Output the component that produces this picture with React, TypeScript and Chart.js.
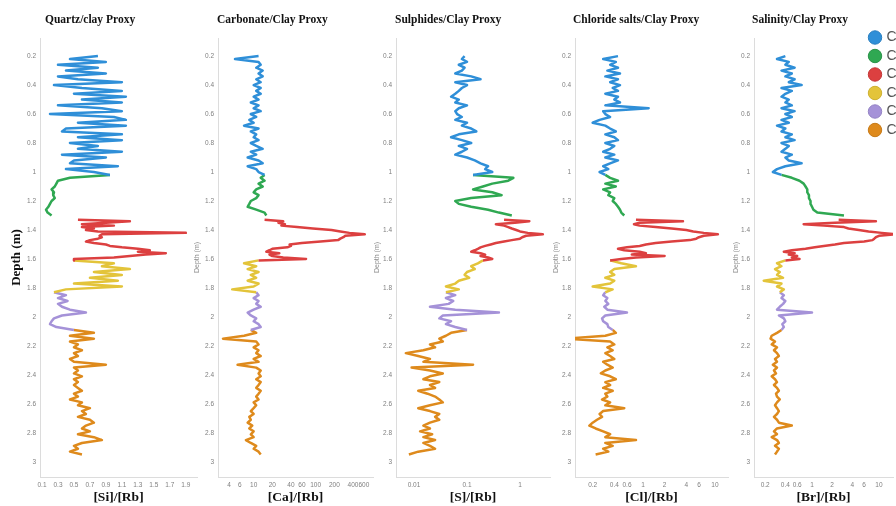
import React, { useEffect, useRef } from "react";
import { Chart, registerables } from "chart.js";

Chart.register(...registerables);

// ---------- categories / legend ----------
const segmentNames = ["Cluster 1", "Cluster 2", "Cluster 3", "Cluster 4", "Cluster 5", "Cluster 6"];
const segmentColors = ["#2f8fd8", "#2fa852", "#dc4040", "#e3c43a", "#a592d8", "#de8a1c"];
const segmentEdges = ["#2a7fc0", "#2a9248", "#c43838", "#cdb030", "#9483c4", "#c67a18"];

// ---------- depth grid (m) per segment ----------
const blueDepth = [0.20, 0.22, 0.24, 0.26, 0.28, 0.30, 0.32, 0.34, 0.36, 0.38, 0.40, 0.42, 0.44, 0.46, 0.48, 0.50, 0.52, 0.54, 0.56, 0.58, 0.60, 0.62, 0.64, 0.66, 0.68, 0.70, 0.72, 0.74, 0.76, 0.78, 0.80, 0.82, 0.84, 0.86, 0.88, 0.90, 0.92, 0.94, 0.96, 0.98, 1.00, 1.02];
const greenDepth = [1.02, 1.04, 1.06, 1.08, 1.10, 1.12, 1.14, 1.16, 1.18, 1.20, 1.22, 1.24, 1.26, 1.28, 1.30];
const redDepth = [1.33, 1.34, 1.35, 1.36, 1.37, 1.38, 1.39, 1.40, 1.41, 1.42, 1.43, 1.44, 1.45, 1.46, 1.47, 1.48, 1.49, 1.50, 1.51, 1.52, 1.53, 1.54, 1.55, 1.56, 1.57, 1.58, 1.59, 1.60, 1.61];
const yellowDepth = [1.61, 1.63, 1.65, 1.67, 1.69, 1.71, 1.73, 1.75, 1.77, 1.79, 1.81, 1.83];
const purpleDepth = [1.83, 1.85, 1.87, 1.89, 1.91, 1.93, 1.95, 1.97, 1.99, 2.01, 2.03, 2.05, 2.07, 2.09];
const orangeDepth = [2.09, 2.11, 2.13, 2.15, 2.17, 2.19, 2.21, 2.23, 2.25, 2.27, 2.29, 2.31, 2.33, 2.35, 2.37, 2.39, 2.41, 2.43, 2.45, 2.47, 2.49, 2.51, 2.53, 2.55, 2.57, 2.59, 2.61, 2.63, 2.65, 2.67, 2.69, 2.71, 2.73, 2.75, 2.77, 2.79, 2.81, 2.83, 2.85, 2.87, 2.89, 2.91, 2.93, 2.95];

const depthTicks = [0.2, 0.4, 0.6, 0.8, 1, 1.2, 1.4, 1.6, 1.8, 2, 2.2, 2.4, 2.6, 2.8, 3];

// ---------- Quartz / clay  [Si]/[Rb] ----------
const quartzBlue = [0.8, 0.45, 0.9, 0.3, 0.8, 0.4, 0.9, 0.3, 0.55, 1.1, 0.25, 0.6, 1.1, 0.5, 1.15, 0.6, 1.1, 0.3, 0.85, 1.1, 0.2, 1.0, 1.15, 0.55, 1.15, 0.4, 0.35, 1.1, 0.55, 1.1, 0.45, 0.8, 0.55, 1.1, 0.35, 0.9, 0.5, 0.45, 1.05, 0.4, 0.75, 0.95];
const quartzGreen = [0.95, 0.45, 0.3, 0.28, 0.26, 0.22, 0.25, 0.24, 0.26, 0.22, 0.2, 0.18, 0.15, 0.17, 0.22];
const quartzRed = [0.55, 1.2, 0.9, 0.6, 1.0, 0.6, 0.75, 0.65, 0.8, 1.9, 0.85, 0.82, 0.85, 0.8, 0.7, 0.65, 0.75, 0.9, 0.95, 1.1, 1.3, 1.45, 1.3, 1.65, 1.4, 1.2, 1.0, 0.5, 0.5];
const quartzYellow = [0.5, 1.0, 0.85, 1.2, 0.75, 1.1, 0.7, 1.05, 0.5, 1.1, 0.4, 0.25];
const quartzPurple = [0.25, 0.4, 0.3, 0.42, 0.3, 0.35, 0.45, 0.65, 0.35, 0.25, 0.22, 0.2, 0.28, 0.5];
const quartzOrange = [0.5, 0.75, 0.45, 0.75, 0.45, 0.55, 0.5, 0.6, 0.5, 0.55, 0.45, 0.5, 0.9, 0.5, 0.55, 0.5, 0.6, 0.5, 0.55, 0.5, 0.55, 0.6, 0.5, 0.55, 0.45, 0.6, 0.55, 0.7, 0.6, 0.65, 0.55, 0.7, 0.75, 0.65, 0.6, 0.7, 0.55, 0.75, 0.85, 0.6, 0.5, 0.55, 0.45, 0.6];
const quartzTicks = [0.1, 0.3, 0.5, 0.7, 0.9, 1.1, 1.3, 1.5, 1.7, 1.9];

// ---------- Carbonate / clay  [Ca]/[Rb] ----------
const carbBlue = [12, 5, 12, 13, 11, 14, 12, 14, 11, 13, 10, 13, 11, 13, 10, 12, 9, 12, 10, 13, 9, 11, 8.5, 10, 7, 12, 9, 11, 10, 12, 9, 11, 14, 9, 11, 8, 12, 14, 8, 11, 12, 15];
const carbGreen = [15, 13, 15, 12, 14, 11, 10, 12, 11, 9, 8.5, 8, 11, 15, 16];
const carbRed = [15, 30, 25, 32, 28, 50, 90, 180, 250, 350, 620, 300, 280, 250, 230, 120, 60, 38, 40, 35, 20, 18, 16, 26, 18, 20, 30, 70, 12];
const carbYellow = [12, 7, 11, 8, 12, 9, 11, 8, 12, 10, 4.5, 11];
const carbPurple = [11, 12, 10, 12, 11, 13, 10, 8, 9, 11, 10, 12, 13, 9];
const carbOrange = [9, 11, 7, 3.2, 11, 12, 10, 12, 11, 13, 10, 12, 5.5, 11, 13, 12, 13, 11, 13, 12, 11, 13, 12, 11, 12, 10, 11, 10, 9, 10, 8.5, 9, 8, 9.5, 8.5, 10, 9, 10, 7.5, 9, 11, 10, 12, 13];
const carbTicks = [4, 6, 10, 20, 40, 60, 100, 200, 400, 600];

// ---------- Sulphides / clay  [S]/[Rb] ----------
const sulfBlue = [0.09, 0.08, 0.1, 0.07, 0.09, 0.08, 0.06, 0.12, 0.18, 0.06, 0.1, 0.08, 0.07, 0.06, 0.05, 0.07, 0.06, 0.1, 0.07, 0.06, 0.065, 0.08, 0.06, 0.1, 0.08, 0.12, 0.15, 0.07, 0.05, 0.08, 0.12, 0.07, 0.1, 0.08, 0.06, 0.1, 0.14, 0.18, 0.25, 0.22, 0.3, 0.13];
const sulfGreen = [0.13, 0.75, 0.6, 0.3, 0.2, 0.13, 0.3, 0.45, 0.12, 0.06, 0.07, 0.12, 0.25, 0.4, 0.7];
const sulfRed = [0.5, 1.5, 0.8, 0.35, 0.5, 0.6, 0.7, 0.85, 1.0, 1.4, 2.7, 1.3, 1.1, 1.0, 0.7, 0.5, 0.35, 0.28, 0.22, 0.18, 0.16, 0.14, 0.12, 0.18, 0.22, 0.18, 0.25, 0.3, 0.2];
const sulfYellow = [0.2, 0.16, 0.12, 0.14, 0.1, 0.09, 0.11, 0.07, 0.06, 0.04, 0.07, 0.04];
const sulfPurple = [0.04, 0.06, 0.04, 0.055, 0.045, 0.02, 0.06, 0.4, 0.035, 0.03, 0.05, 0.04, 0.06, 0.1];
const sulfOrange = [0.1, 0.05, 0.04, 0.03, 0.035, 0.02, 0.025, 0.015, 0.007, 0.012, 0.02, 0.015, 0.13, 0.009, 0.02, 0.035, 0.02, 0.015, 0.03, 0.02, 0.025, 0.012, 0.018, 0.025, 0.03, 0.035, 0.02, 0.012, 0.02, 0.03, 0.025, 0.03, 0.02, 0.015, 0.02, 0.013, 0.022, 0.015, 0.025, 0.015, 0.02, 0.025, 0.012, 0.008];
const sulfTicks = [0.01, 0.1, 1];

// ---------- Chloride salts / clay  [Cl]/[Rb] ----------
const chlorBlue = [0.45, 0.28, 0.42, 0.35, 0.45, 0.32, 0.48, 0.3, 0.45, 0.35, 0.48, 0.38, 0.45, 0.3, 0.45, 0.4, 0.48, 0.3, 1.2, 0.28, 0.3, 0.35, 0.25, 0.2, 0.3, 0.35, 0.42, 0.3, 0.4, 0.45, 0.3, 0.4, 0.35, 0.28, 0.4, 0.3, 0.45, 0.35, 0.28, 0.33, 0.25, 0.3];
const chlorGreen = [0.3, 0.35, 0.45, 0.3, 0.42, 0.28, 0.35, 0.33, 0.4, 0.38, 0.42, 0.45, 0.48, 0.5, 0.55];
const chlorRed = [0.8, 3.6, 0.9, 0.75, 0.9, 1.5, 2.5, 4, 5, 7, 11, 7, 6, 5.5, 4.5, 2.5, 1.5, 1.1, 0.9, 0.6, 0.45, 0.55, 0.9, 1.1, 0.7, 2, 0.8, 0.5, 0.35];
const chlorYellow = [0.35, 0.5, 0.8, 0.4, 0.35, 0.4, 0.3, 0.4, 0.35, 0.2, 0.38, 0.3];
const chlorPurple = [0.3, 0.28, 0.32, 0.3, 0.33, 0.29, 0.32, 0.6, 0.3, 0.27, 0.28, 0.32, 0.33, 0.38];
const chlorOrange = [0.38, 0.42, 0.3, 0.09, 0.35, 0.4, 0.32, 0.38, 0.3, 0.35, 0.4, 0.28, 0.32, 0.38, 0.3, 0.26, 0.35, 0.42, 0.3, 0.35, 0.28, 0.38, 0.3, 0.32, 0.27, 0.35, 0.3, 0.55, 0.28, 0.25, 0.27, 0.23, 0.2, 0.18, 0.22, 0.28, 0.35, 0.3, 0.8, 0.3, 0.38, 0.28, 0.33, 0.22];
const chlorTicks = [0.2, 0.4, 0.6, 1, 2, 4, 6, 10];

// ---------- Salinity / clay  [Br]/[Rb] ----------
const salBlue = [0.4, 0.3, 0.45, 0.4, 0.55, 0.35, 0.5, 0.4, 0.55, 0.45, 0.7, 0.35, 0.5, 0.4, 0.35, 0.45, 0.4, 0.5, 0.35, 0.55, 0.4, 0.5, 0.35, 0.45, 0.3, 0.4, 0.35, 0.5, 0.4, 0.55, 0.35, 0.45, 0.4, 0.35, 0.5, 0.4, 0.45, 0.7, 0.4, 0.3, 0.26, 0.35];
const salGreen = [0.35, 0.5, 0.65, 0.75, 0.8, 0.85, 0.85, 0.9, 0.9, 0.95, 0.95, 1.0, 1.05, 1.2, 3.0];
const salRed = [2.5, 9, 2.2, 0.75, 1.5, 3, 3.5, 5, 7, 11, 18, 10, 9, 8.5, 8, 6, 3, 2.2, 1.5, 1.1, 0.8, 0.5, 0.38, 0.55, 0.45, 0.6, 0.5, 0.65, 0.4];
const salYellow = [0.4, 0.3, 0.35, 0.28, 0.33, 0.3, 0.37, 0.19, 0.35, 0.3, 0.38, 0.33];
const salPurple = [0.33, 0.38, 0.35, 0.4, 0.37, 0.33, 0.3, 1.0, 0.32, 0.38, 0.4, 0.36, 0.38, 0.35];
const salOrange = [0.35, 0.3, 0.25, 0.24, 0.28, 0.25, 0.3, 0.27, 0.3, 0.32, 0.28, 0.3, 0.26, 0.3, 0.27, 0.29, 0.25, 0.28, 0.3, 0.27, 0.3, 0.32, 0.29, 0.3, 0.33, 0.3, 0.28, 0.3, 0.32, 0.3, 0.27, 0.3, 0.32, 0.5, 0.3, 0.27, 0.3, 0.25, 0.3, 0.32, 0.28, 0.32, 0.3, 0.28];
const salTicks = [0.2, 0.4, 0.6, 1, 2, 4, 6, 10];

const segmentDepths = [blueDepth, greenDepth, redDepth, yellowDepth, purpleDepth, orangeDepth];

const SERIF = "'Liberation Serif', 'Times New Roman', serif";
const SANS = "'Liberation Sans', Arial, sans-serif";
const H = 506;

type PanelCfg = {
  title: string;
  xTitle: string;
  scaleType: "linear" | "logarithmic";
  min: number;
  max: number;
  ticks: number[];
  series: number[][];
  left: number;
  width: number;
  yWidth: number;
  titleDx: number;
  mainY: boolean;
  yTitlePad: number;
};

const panels: PanelCfg[] = [
  { title: "Quartz/clay Proxy", xTitle: "[Si]/[Rb]", scaleType: "linear", min: 0.075, max: 2.04, ticks: quartzTicks,
    series: [quartzBlue, quartzGreen, quartzRed, quartzYellow, quartzPurple, quartzOrange],
    left: 0, width: 200, yWidth: 40, titleDx: 5, mainY: true, yTitlePad: 9 },
  { title: "Carbonate/Clay Proxy", xTitle: "[Ca]/[Rb]", scaleType: "logarithmic", min: 2.66, max: 841, ticks: carbTicks,
    series: [carbBlue, carbGreen, carbRed, carbYellow, carbPurple, carbOrange],
    left: 190, width: 186, yWidth: 28, titleDx: -1, mainY: false, yTitlePad: 2.8 },
  { title: "Sulphides/Clay Proxy", xTitle: "[S]/[Rb]", scaleType: "logarithmic", min: 0.00457, max: 3.68, ticks: sulfTicks,
    series: [sulfBlue, sulfGreen, sulfRed, sulfYellow, sulfPurple, sulfOrange],
    left: 370, width: 183, yWidth: 26, titleDx: -1, mainY: false, yTitlePad: 2.8 },
  { title: "Chloride salts/Clay Proxy", xTitle: "[Cl]/[Rb]", scaleType: "logarithmic", min: 0.1137, max: 15.2, ticks: chlorTicks,
    series: [chlorBlue, chlorGreen, chlorRed, chlorYellow, chlorPurple, chlorOrange],
    left: 550, width: 181, yWidth: 25, titleDx: -2, mainY: false, yTitlePad: 1.8 },
  { title: "Salinity/Clay Proxy", xTitle: "[Br]/[Rb]", scaleType: "logarithmic", min: 0.136, max: 16.2, ticks: salTicks,
    series: [salBlue, salGreen, salRed, salYellow, salPurple, salOrange],
    left: 730, width: 166, yWidth: 24, titleDx: -2, mainY: false, yTitlePad: 1.8 },
];

const panelTitlePlugin = {
  id: "panelTitle",
  afterDraw(chart: any, _args: any, opts: any) {
    if (!opts || !opts.text) return;
    const { ctx, chartArea } = chart;
    ctx.save();
    ctx.font = opts.font;
    ctx.fillStyle = opts.color;
    ctx.textBaseline = "middle";
    ctx.textAlign = "left";
    ctx.fillText(opts.text, chartArea.left + opts.dx, opts.y);
    ctx.restore();
  },
};

function Panel({ cfg }: { cfg: PanelCfg }) {
  const ref = useRef<HTMLCanvasElement>(null);
  useEffect(() => {
    const datasets = cfg.series.map((vals, i) => ({
      label: segmentNames[i],
      data: vals.map((v, j) => ({ x: v, y: segmentDepths[i][j] })),
      showLine: true,
      borderColor: segmentColors[i],
      backgroundColor: segmentColors[i],
      borderWidth: 2.5,
      borderJoinStyle: "round",
      pointRadius: 0,
      pointHoverRadius: 0,
      tension: 0,
    }));
    const chart = new Chart(ref.current as HTMLCanvasElement, {
      type: "scatter",
      data: { datasets },
      plugins: [panelTitlePlugin],
      options: {
        responsive: false,
        animation: false,
        devicePixelRatio: 1,
        layout: { padding: { top: 38, right: 3, bottom: 0, left: 0 } },
        plugins: {
          legend: { display: false },
          tooltip: { enabled: false },
          title: { display: false },
          panelTitle: {
            text: cfg.title,
            font: `bold 11.5px ${SERIF}`,
            color: "#111",
            dx: cfg.titleDx,
            y: 20,
          },
        } as any,
        scales: {
          x: {
            type: cfg.scaleType,
            position: "bottom",
            min: cfg.min,
            max: cfg.max,
            afterBuildTicks: (s: any) => {
              s.ticks = cfg.ticks.map((v) => ({ value: v }));
            },
            afterFit: (s: any) => {
              s.height = 29;
            },
            grid: { display: false, drawTicks: false },
            border: { display: true, color: "#dcdcdc", width: 1 },
            ticks: {
              autoSkip: false,
              maxRotation: 0,
              minRotation: 0,
              padding: 4,
              color: "#808080",
              font: { size: 6.5, family: SANS },
              callback: (v: any) => String(v),
            },
            title: {
              display: true,
              text: cfg.xTitle,
              color: "#111",
              font: { size: 13.5, family: SERIF, weight: "bold" },
              padding: { top: 0, bottom: 0 },
            },
          },
          y: {
            type: "linear",
            reverse: true,
            min: 0.075,
            max: 3.105,
            afterBuildTicks: (s: any) => {
              s.ticks = depthTicks.map((v) => ({ value: v }));
            },
            afterFit: (s: any) => {
              s.width = cfg.yWidth;
            },
            grid: { display: false, drawTicks: false },
            border: { display: true, color: "#dcdcdc", width: 1 },
            ticks: {
              padding: 4,
              color: "#808080",
              font: { size: 6.5, family: SANS },
              callback: (v: any) => String(v),
            },
            title: cfg.mainY
              ? {
                  display: true,
                  text: "Depth (m)",
                  color: "#111",
                  font: { size: 13, family: SERIF, weight: "bold" },
                  padding: { top: cfg.yTitlePad, bottom: 0 },
                }
              : {
                  display: true,
                  text: "Depth (m)",
                  color: "#8a8a8a",
                  font: { size: 7, family: SANS },
                  padding: { top: cfg.yTitlePad, bottom: 0 },
                },
          },
        } as any,
      },
    });
    return () => chart.destroy();
  }, [cfg]);
  return (
    <canvas
      ref={ref}
      width={cfg.width}
      height={H}
      style={{ position: "absolute", left: cfg.left, top: 0, width: cfg.width, height: H, display: "block" }}
    />
  );
}

function LegendBox() {
  const ref = useRef<HTMLCanvasElement>(null);
  useEffect(() => {
    const chart = new Chart(ref.current as HTMLCanvasElement, {
      type: "scatter",
      data: {
        datasets: segmentNames.map((n, i) => ({
          label: n,
          data: [],
          backgroundColor: segmentColors[i],
          borderColor: segmentEdges[i],
          borderWidth: 1,
        })),
      },
      options: {
        responsive: false,
        animation: false,
        devicePixelRatio: 1,
        layout: { padding: { left: 12, top: 0, right: 0, bottom: 0 } },
        scales: { x: { display: false }, y: { display: false } },
        plugins: {
          tooltip: { enabled: false },
          legend: {
            display: true,
            position: "left",
            align: "start",
            labels: {
              usePointStyle: true,
              pointStyle: "circle",
              boxWidth: 9,
              boxHeight: 9.5,
              padding: 4.5,
              color: "#555",
              font: { size: 14, family: SANS },
            },
          },
        },
      } as any,
    });
    return () => chart.destroy();
  }, []);
  return (
    <canvas
      ref={ref}
      width={240}
      height={150}
      style={{ position: "absolute", left: 854, top: 26, width: 240, height: 150, display: "block" }}
    />
  );
}

export default function App() {
  return (
    <div
      style={{
        position: "fixed",
        left: 0,
        top: 0,
        width: 896,
        height: 506,
        overflow: "hidden",
        background: "#ffffff",
      }}
    >
      {panels.map((p) => (
        <Panel key={p.title} cfg={p} />
      ))}
      <LegendBox />
    </div>
  );
}
